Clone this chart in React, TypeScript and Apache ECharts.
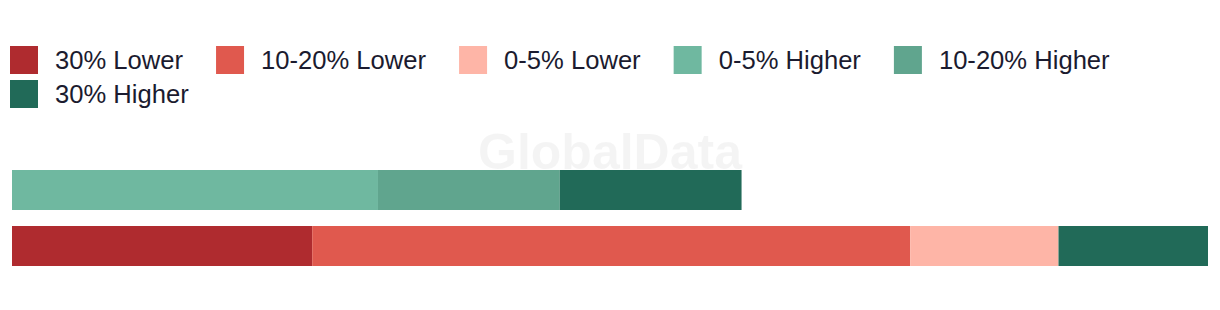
import React, { useEffect, useRef } from "react";
import * as echarts from "echarts";

const categories = ["Group B", "Group A"]; // bottom bar, top bar
const seriesNames = ["30% Lower", "10-20% Lower", "0-5% Lower", "0-5% Higher", "10-20% Higher", "30% Higher"];
const colors = ["#AF2B2F", "#E0594E", "#FEB5A7", "#6FB8A0", "#60A58E", "#216A58"];
// values per series: [bottom bar, top bar] (share, %)
const lower30 = [25.1, 0];
const lower10to20 = [50.0, 0];
const lower0to5 = [12.4, 0];
const higher0to5 = [0, 30.6];
const higher10to20 = [0, 15.2];
const higher30 = [12.5, 15.2];
const seriesValues = [lower30, lower10to20, lower0to5, higher0to5, higher10to20, higher30];

export default function App() {
  const ref = useRef<HTMLDivElement>(null);
  useEffect(() => {
    if (!ref.current) return;
    const chart = echarts.init(ref.current, null, { renderer: "svg" });
    const legendText = {
      color: "#1B1B2F",
      fontSize: 25.6,
      fontFamily: "Liberation Sans",
      padding: [0, 0, 0, 12],
    };
    const legendBase = {
      left: 10,
      padding: 0,
      itemWidth: 28,
      itemHeight: 28,
      itemGap: 33,
      icon: "rect",
      textStyle: legendText,
    };
    chart.setOption({
      animation: false,
      legend: [
        { ...legendBase, top: 46, data: seriesNames.slice(0, 5) },
        { ...legendBase, top: 80, data: seriesNames.slice(5) },
      ],
      grid: { left: 12, width: 1196, top: 162, height: 112 },
      xAxis: { type: "value", min: 0, max: 100, show: false },
      yAxis: { type: "category", data: categories, show: false },
      graphic: [
        {
          type: "text",
          left: "center",
          top: 127,
          z: 100,
          style: {
            text: "GlobalData",
            fontSize: 50,
            fontWeight: "bold",
            fontFamily: "Liberation Sans",
            fill: "rgba(0,0,0,0.045)",
          },
        },
      ],
      series: seriesNames.map((name, i) => ({
        name,
        type: "bar",
        stack: "total",
        barWidth: 40,
        itemStyle: { color: colors[i] },
        data: seriesValues[i],
      })),
    });
    return () => chart.dispose();
  }, []);
  return <div ref={ref} style={{ width: 1220, height: 310, margin: -8 }} />;
}
